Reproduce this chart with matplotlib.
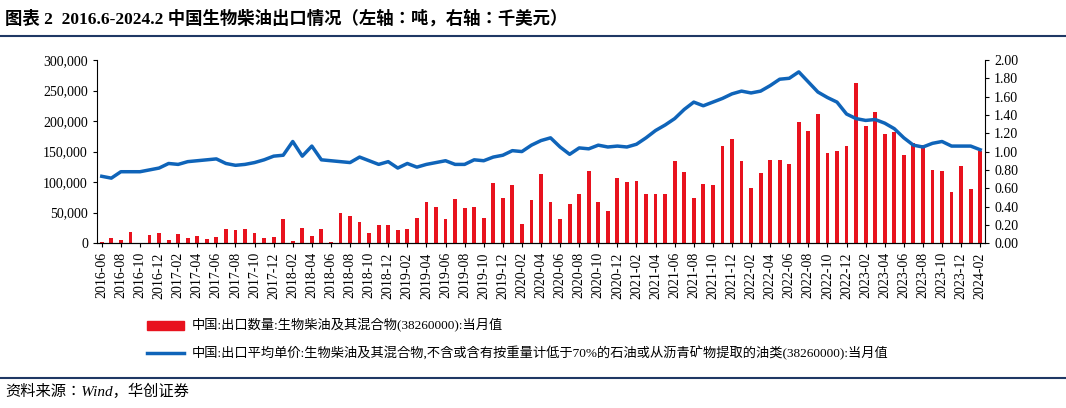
import matplotlib
matplotlib.use("Agg")
import matplotlib.pyplot as plt
import numpy as np
from matplotlib.lines import Line2D

months = []
y, m = 2016, 6
while (y, m) <= (2024, 2):
    months.append(f"{y}-{m:02d}")
    m += 1
    if m > 12:
        m = 1; y += 1

volume = [2000, 8000, 5000, 18000, 1000, 13000, 17000,
          6000, 15000, 9000, 12000, 7000, 10000, 24000, 22000, 24000, 17000, 9000, 10000,
          40000, 4000, 25000, 11000, 23000, 2000, 50000, 44000, 35000, 17000, 29000, 29000,
          22000, 23000, 42000, 68000, 60000, 39000, 72000, 58000, 60000, 41000, 99000, 74000,
          96000, 32000, 70000, 113000, 68000, 39000, 64000, 81000, 119000, 68000, 53000, 106000,
          100000, 102000, 80000, 81000, 80000, 134000, 116000, 74000, 97000, 95000, 159000, 171000,
          134000, 90000, 115000, 137000, 136000, 129000, 198000, 184000, 211000, 148000, 151000, 159000,
          263000, 192000, 214000, 178000, 182000, 145000, 164000, 160000, 120000, 118000, 84000, 127000,
          88000, 151000]
price = [0.73, 0.71, 0.78, 0.78, 0.78, 0.80, 0.82,
         0.87, 0.86, 0.89, 0.90, 0.91, 0.92, 0.87, 0.85, 0.86, 0.88, 0.91, 0.95,
         0.96, 1.11, 0.95, 1.06, 0.91, 0.90, 0.89, 0.88, 0.94, 0.90, 0.86, 0.89,
         0.82, 0.87, 0.83, 0.86, 0.88, 0.90, 0.86, 0.86, 0.91, 0.90, 0.94, 0.96,
         1.01, 1.00, 1.07, 1.12, 1.15, 1.05, 0.97, 1.04, 1.03, 1.07, 1.05, 1.06,
         1.05, 1.08, 1.15, 1.23, 1.29, 1.36, 1.46, 1.54, 1.50, 1.54, 1.58, 1.63,
         1.66, 1.64, 1.66, 1.72, 1.79, 1.80, 1.87, 1.76, 1.65, 1.59, 1.54, 1.41,
         1.36, 1.34, 1.35, 1.31, 1.25, 1.15, 1.07, 1.05, 1.09, 1.11, 1.06, 1.06,
         1.06, 1.02]

serif = "Liberation Serif"
cjk = ["Liberation Serif", "Noto Sans CJK SC", "Noto Sans CJK JP", "Noto Sans CJK TC"]
red = "#E8121E"
blue = "#0F64B9"
navy = "#1F3864"

fig = plt.figure(figsize=(10.66, 4.08), dpi=100)
ax = fig.add_axes([0.091, 0.404, 0.833, 0.449])
ax2 = ax.twinx()
x = np.arange(len(months))
ax.bar(x, volume, width=0.4, color=red, zorder=2)
ax2.plot(x, price, color=blue, lw=2.5, zorder=3)
ax.set_xlim(-0.5, len(months) - 0.5)
ax.set_ylim(0, 300000)
ax2.set_ylim(0, 2.0)
ax.set_yticks(np.arange(0, 300001, 50000))
ax.set_yticklabels([f"{v:,}" for v in range(0, 300001, 50000)], fontfamily=serif, fontsize=10)
ax2.set_yticks(np.arange(0, 2.01, 0.2))
ax2.set_yticklabels([f"{v:.2f}" for v in np.arange(0, 2.01, 0.2)], fontfamily=serif, fontsize=10)
ax.set_xticks(x[::2])
ax.set_xticklabels(months[::2], rotation=90, fontfamily=serif, fontsize=10)
for a in (ax, ax2):
    a.spines["top"].set_visible(False)
    a.tick_params(direction="out", length=3)
ax.spines["right"].set_visible(False)
ax2.spines["left"].set_visible(False)

fig.text(0.005, 0.955, "图表 2  2016.6-2024.2 中国生物柴油出口情况（左轴：吨，右轴：千美元）",
         fontfamily=cjk, fontsize=12.5, fontweight="bold", va="center")
fig.add_artist(Line2D([0, 1], [0.912, 0.912], color=navy, lw=1.5))
fig.add_artist(Line2D([0, 1], [0.073, 0.073], color=navy, lw=1.5))
fig.text(0.005, 0.04, "资料来源：Wind，华创证券", fontfamily=cjk, fontsize=11,
         style="italic", va="center")

fig.add_artist(plt.Rectangle((0.138, 0.192), 0.035, 0.022, color=red, transform=fig.transFigure))
fig.text(0.18, 0.203, "中国:出口数量:生物柴油及其混合物(38260000):当月值",
         fontfamily=cjk, fontsize=9.5, va="center")
fig.add_artist(Line2D([0.138, 0.173], [0.135, 0.135], color=blue, lw=2.5))
fig.text(0.18, 0.135, "中国:出口平均单价:生物柴油及其混合物,不含或含有按重量计低于70%的石油或从沥青矿物提取的油类(38260000):当月值",
         fontfamily=cjk, fontsize=9.5, va="center")

fig.savefig("out.png", dpi=100)
